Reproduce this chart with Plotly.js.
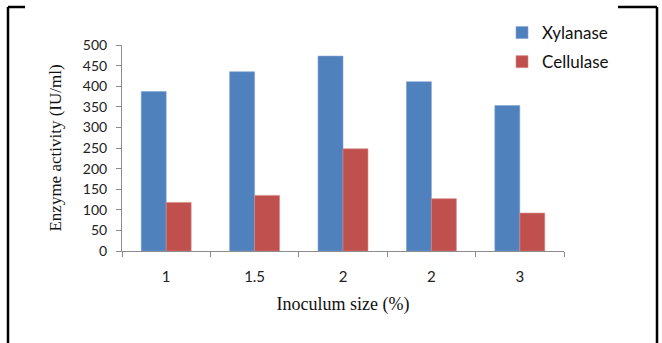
<!DOCTYPE html>
<html>
<head>
<meta charset="utf-8">
<script src="https://cdn.plot.ly/plotly-3.0.1.min.js"></script>
<style>html,body{margin:0;padding:0;background:#fff;}#chart{width:662px;height:343px;}</style>
</head>
<body>
<div id="chart"></div>
<script>
var inoculumLabels = ["1", "1.5", "2", "2", "3"];
var xylanase = [387, 435, 473, 411, 353];
var cellulase = [118, 135, 248, 127, 92];

var positions = inoculumLabels.map(function (_, i) { return i; });
var boundaries = positions.concat([positions.length]).map(function (p) { return p - 0.5; });

var W = 662, H = 343;
var M = {l: 122, r: 98, t: 45, b: 92};
var pw = W - M.l - M.r, ph = H - M.t - M.b;
function px(x) { return (x - M.l) / pw; }
function py(y) { return (H - M.b - y) / ph; }
function seg(x0, y0, x1, y1) {
  return {type: 'line', xref: 'paper', yref: 'paper', x0: px(x0), y0: py(y0), x1: px(x1), y1: py(y1),
          line: {color: '#000', width: 2.5}};
}

var traces = [
  {type: 'bar', name: 'Xylanase', x: positions, y: xylanase, legendgroup: 'xyl',
   marker: {color: '#4F81BD', line: {color: '#7fa2d0', width: 0.6}}},
  {type: 'bar', name: 'Cellulase', x: positions, y: cellulase, legendgroup: 'cel',
   marker: {color: '#C0504D', line: {color: '#d88784', width: 0.6}}}
];

var layout = {
  width: W, height: H,
  margin: M,
  paper_bgcolor: '#fff', plot_bgcolor: '#fff',
  barmode: 'group', bargap: 0.435, bargroupgap: 0,
  font: {family: 'Lato, "Open Sans", sans-serif', color: '#222'},
  showlegend: true,
  legend: {x: px(502), y: py(15), xanchor: 'left', yanchor: 'top',
           font: {family: 'Lato, "Open Sans", sans-serif', size: 17, color: '#111'},
           traceorder: 'grouped',
           itemwidth: 30, tracegroupgap: 4, bgcolor: 'rgba(0,0,0,0)'},
  xaxis: {
    range: [-0.5, positions.length - 0.5], fixedrange: true,
    tickmode: 'array', tickvals: positions, ticktext: inoculumLabels,
    ticks: '', showgrid: false, zeroline: false, ticklabelstandoff: 12,
    showline: true, linecolor: '#8c8c8c', linewidth: 1,
    tickfont: {size: 15, family: 'Lato, "Open Sans", sans-serif', color: '#222'},
    minor: {tickmode: 'array', tickvals: boundaries, ticks: 'outside', ticklen: 5, tickcolor: '#8c8c8c', showgrid: false},
    title: {text: 'Inoculum size (%)', standoff: 13,
            font: {family: '"Liberation Serif", "DejaVu Serif", serif', size: 18, color: '#111'}}
  },
  yaxis: {
    range: [0, 500], dtick: 50, tick0: 0, fixedrange: true,
    ticks: 'outside', ticklen: 5, tickcolor: '#8c8c8c', ticklabelstandoff: 6,
    showgrid: false, zeroline: false,
    showline: true, linecolor: '#8c8c8c', linewidth: 1,
    tickfont: {size: 14, family: 'Lato, "Open Sans", sans-serif', color: '#222'},
    title: {text: 'Enzyme activity (IU/ml)', standoff: 16,
            font: {family: '"Liberation Serif", "DejaVu Serif", serif', size: 17, color: '#111'}}
  },
  shapes: [
    seg(8, 7, 8, 343),
    seg(8, 7, 25, 7),
    seg(618, 7, 657, 7),
    seg(657, 7, 657, 343)
  ]
};

Plotly.newPlot('chart', traces, layout, {staticPlot: true, displayModeBar: false});
</script>
</body>
</html>
